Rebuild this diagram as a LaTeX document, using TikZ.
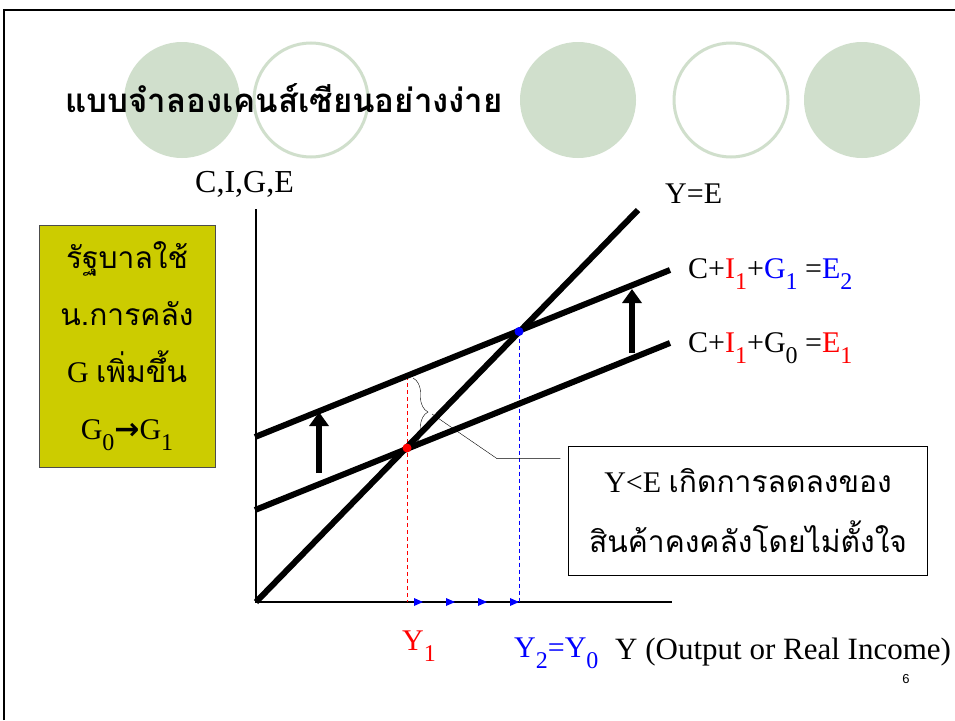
\documentclass[tikz,border=0pt]{standalone}
\usepackage{fontspec}
\setmainfont{Liberation Serif}
\setsansfont{Liberation Sans}
\newfontfamily\thaifont[Script=Thai]{Loma}
\newfontfamily\arrowfont{DejaVu Sans}
\usetikzlibrary{arrows.meta,positioning,decorations.pathreplacing}
\definecolor{sage}{RGB}{208,223,204}
\definecolor{olive}{RGB}{204,204,0}
\definecolor{pptred}{RGB}{255,0,0}
\definecolor{pptblue}{RGB}{0,0,255}
\newcommand{\fsz}[2][1.2]{\fontsize{#2}{#1\dimexpr #2pt\relax}\selectfont}
\newcommand{\lowidx}[1]{\raisebox{-11pt}{\fontsize{24}{24}\selectfont #1}}
\tikzset{
  disc/.style={fill=sage},
  ring/.style={draw=sage,line width=3pt,fill=white},
  curve/.style={line width=6pt},
  axis/.style={line width=1.3pt},
  guide/.style={dash pattern=on 4pt off 3pt,line width=1pt},
  liftarrow/.style={line width=6pt,-{Triangle[length=14pt,width=19pt]}},
  lbl/.style={anchor=base west,inner sep=0pt,font=\fsz{30}},
  govbox/.style={draw=black!70,fill=olive,minimum width=176pt,
    minimum height=242pt,align=center,font=\fontsize{30}{57}\selectfont},
  notebox/.style={draw,fill=white,minimum width=359pt,minimum height=129pt,
    align=center,font=\fontsize{30}{60}\selectfont}
}

\begin{document}
\begin{tikzpicture}[x=1pt,y=-1pt]
  \useasboundingbox (0,0) rectangle (955,720);
  \fill[white] (0,0) rectangle (955,720);
  \draw[line width=2pt] (4,720) -- (4,10) -- (955,10);

  % background circles
  \foreach \cx in {182,578,862} \fill[disc] (\cx,100) circle (58);
  \foreach \cx in {311,731} \draw[ring] (\cx,100) circle (57);

  \node[anchor=base west,inner sep=0pt,font=\thaifont\bfseries\fsz{33}] (title) at (65,112)
    {แบบจำลองเคนส์เซียนอย่างง่าย};

  % axes
  \coordinate (O) at (256,602);
  \coordinate (ytop) at (256,209);
  \coordinate (xend) at (672,602);
  \draw[axis] (ytop) -- (O) -- (xend);

  % curves
  \coordinate (ye) at (638,210);
  \coordinate (e1L) at (255,510);
  \coordinate (e1R) at (670,343);
  \coordinate (e2L) at (255,437);
  \coordinate (e2R) at (670,270);
  \coordinate (ptA) at (407,448);
  \coordinate (ptB) at (519,331.5);
  \draw[guide,pptred] (407,376) -- (407,602);
  \draw[guide,pptblue] (ptB) -- (519,602);
  \draw[curve] (O) -- (ye);
  \draw[curve] (e1L) -- (e1R);
  \draw[curve] (e2L) -- (e2R);
  \fill[pptred] (ptA) circle (4.5);
  \fill[pptblue] (ptB) circle (4.5);

  % shifts
  \coordinate (upL0) at (319,473);
  \coordinate (upL1) at (319,412);
  \coordinate (upR0) at (632,353);
  \coordinate (upR1) at (632,289);
  \draw[liftarrow] (upL0) -- (upL1);
  \draw[liftarrow] (upR0) -- (upR1);

  \foreach \tx in {423,455,487,519}
    \fill[pptblue] (\tx,602) -- ++(-9,-4) -- ++(0,8) -- cycle;

  % labels
  \node[lbl,font=\fsz{32}] (yaxis) at (195,192) {C,I,G,E};
  \node[lbl] (lye) at (665,203) {Y=E};
  \node[lbl] (le2) at (688,278) {C+\textcolor{pptred}{I\lowidx{1}}+\textcolor{pptblue}{G\lowidx{1}} =\textcolor{pptblue}{E\lowidx{2}}};
  \node[lbl] (le1) at (688,352) {C+\textcolor{pptred}{I\lowidx{1}}+G\lowidx{0} =\textcolor{pptred}{E\lowidx{1}}};
  \node[lbl,text=pptred] (y1) at (402,650) {Y\lowidx{1}};
  \node[lbl,text=pptblue] (y2) at (514,657) {Y\lowidx{2}=Y\lowidx{0}};
  \node[lbl,font=\fsz{31}] (xaxis) at (615,659) {Y (Output or Real Income)};
  \node[font=\sffamily\fsz{13}] (pg) at (906,679) {6};

  \node[govbox] (gov) at (127,346)
    {{\thaifont รัฐบาลใช้}\\{\thaifont น.การคลัง}\\G {\thaifont เพิ่มขึ้น}\\G\lowidx{0}{\arrowfont\bfseries →}G\lowidx{1}};

  % inventory note
  \node[notebox] (note) at (748,511)
    {Y<E {\thaifont เกิดการลดลงของ}\\{\thaifont สินค้าคงคลังโดยไม่ตั้งใจ}};
  \coordinate (bTop) at (413,378);
  \coordinate (bBot) at (413,446);
  \draw[decorate,decoration={brace,amplitude=15pt,aspect=0.5}] (bTop) -- (bBot);
  \coordinate (bTip) at (432,414);
  \coordinate (elbow) at (497,458.6);
  \draw (bTip) -- (elbow) -- (elbow -| note.west) [shorten >=8pt];
\end{tikzpicture}
\end{document}
